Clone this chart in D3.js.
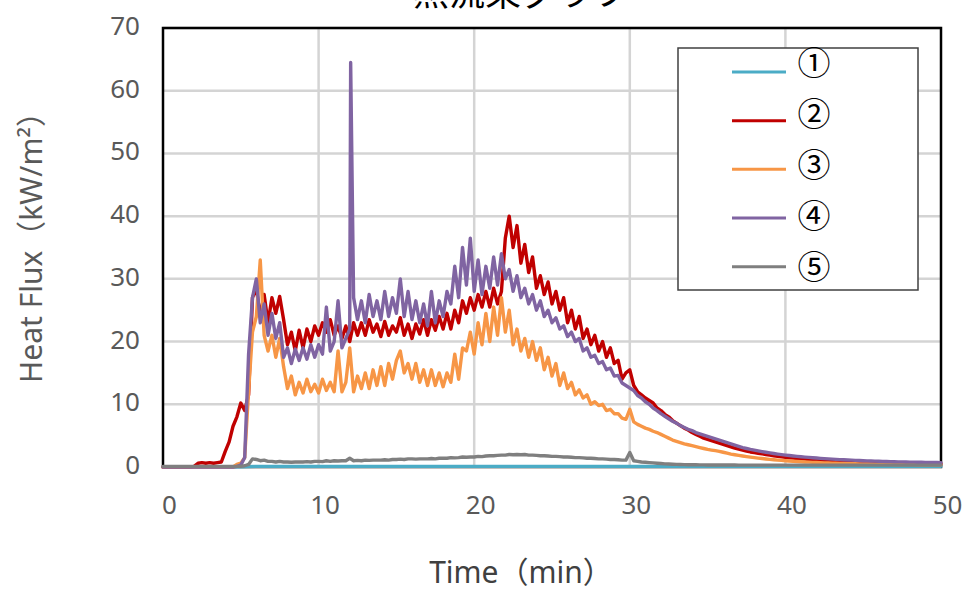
<!DOCTYPE html>
<html>
<head>
<meta charset="utf-8">
<script src="https://cdn.jsdelivr.net/npm/d3@7"></script>
<style>
  body { margin: 0; background: #fff; }
  svg { display: block; }
</style>
</head>
<body>
<svg id="chart" width="963" height="593"></svg>
<script>
// ---- labels and ticks ----
const chartTitle = "熱流束グラフ";
const xAxisTitle = "Time（min）";
const yAxisTitle = "Heat Flux（kW/m²）";
const seriesNames = ["①", "②", "③", "④", "⑤"];
const xTickValues = [0, 10, 20, 30, 40, 50];
const yTickValues = [0, 10, 20, 30, 40, 50, 60, 70];

// ---- readings (kW/m²) ----
// sensors ②–⑤ logged every 0.25 min, sensor ① every 1 min
const fineStepMin = 0.25;
const coarseStepMin = 1;

const sensor1 = [
  0.05, 0.05, 0.05, 0.05, 0.05, 0.05, 0.1, 0.1, 0.1, 0.1,
  0.1, 0.1, 0.1, 0.1, 0.1, 0.1, 0.1, 0.1, 0.1, 0.1,
  0.1, 0.1, 0.1, 0.1, 0.1, 0.1, 0.1, 0.1, 0.1, 0.1,
  0.1, 0.1, 0.1, 0.1, 0.1, 0.1, 0.1, 0.1, 0.1, 0.1,
  0.1, 0.1, 0.1, 0.1, 0.1, 0.1, 0.1, 0.1, 0.1, 0.1,
  0.1
];

const sensor2 = [
  0, 0, 0, 0,            0, 0, 0, 0,
  0.1, 0.6, 0.7, 0.6,    0.7, 0.6, 0.7, 0.8,
  2.5, 4.0, 6.5, 8.0,    10.2, 9.0, 11.5, 27.0,
  28.5, 24.0, 27.5, 23.0, 27.0, 24.5, 27.2, 23.5,
  19.5, 21.5, 18.5, 21.8, 19.0, 22.0, 20.0, 22.5,
  21.0, 23.0, 21.5, 23.5, 21.0, 22.5, 20.5, 22.5,
  20.0, 23.0, 21.0, 23.0, 21.0, 23.5, 21.5, 22.8,
  20.8, 23.2, 21.0, 22.5, 21.5, 23.8, 21.0, 22.8,
  20.5, 22.8, 21.2, 23.5, 21.0, 23.5, 21.8, 24.0,
  22.0, 24.5, 22.0, 25.0, 23.0, 26.5, 24.5, 27.0,
  25.0, 27.5, 25.5, 28.0, 25.5, 28.5, 26.0, 28.0,
  36.5, 40.0, 35.0, 38.5, 32.5, 35.5, 31.0, 33.5,
  28.5, 30.5, 27.5, 29.5, 26.0, 28.0, 25.0, 27.0,
  23.0, 25.0, 22.0, 24.0, 20.5, 22.0, 19.5, 21.0,
  18.5, 20.0, 17.5, 19.0, 16.5, 17.0, 14.0, 15.0,
  15.5, 13.0, 12.0, 11.5, 11.0, 10.6, 10.2, 9.4,
  9.0, 8.4, 8.0, 7.4,    7.0, 6.6, 6.2, 5.9,
  5.5, 5.2, 4.9, 4.6,    4.4, 4.2, 4.0, 3.8,
  3.6, 3.4, 3.2, 3.0,    2.85, 2.7, 2.55, 2.4,
  2.3, 2.2, 2.1, 2.0,    1.9, 1.8, 1.7, 1.62,
  1.55, 1.48, 1.42, 1.36, 1.3, 1.25, 1.2, 1.15,
  1.1, 1.05, 1.0, 0.96,  0.92, 0.88, 0.85, 0.82,
  0.79, 0.76, 0.73, 0.71, 0.69, 0.67, 0.65, 0.63,
  0.62, 0.61, 0.6, 0.59, 0.58, 0.57, 0.56, 0.55,
  0.54, 0.53, 0.52, 0.51, 0.5, 0.5, 0.49, 0.49,
  0.48
];

const sensor3 = [
  0, 0, 0, 0,            0, 0, 0, 0,
  0, 0, 0, 0,            0, 0, 0, 0,
  0, 0, 0, 0.4,          0.6, 1.5, 12.0, 21.5,
  24.0, 33.0, 21.0, 18.5, 21.0, 17.5, 20.5, 16.0,
  12.5, 14.5, 11.5, 13.5, 11.8, 14.0, 12.0, 13.2,
  11.8, 14.0, 12.2, 13.5, 12.0, 18.5, 12.0, 13.5,
  19.0, 12.0, 14.5, 12.5, 15.0, 12.5, 15.5, 13.0,
  16.0, 13.0, 16.5, 14.0, 17.0, 18.5, 15.0, 16.5,
  14.0, 16.5, 13.5, 15.5, 13.0, 15.5, 13.0, 15.0,
  12.8, 15.0, 13.5, 18.0, 14.0, 19.0, 18.5, 21.5,
  18.0, 23.0, 19.5, 24.5, 20.0, 25.5, 21.0, 27.0,
  21.5, 25.0, 19.5, 22.0, 18.5, 20.5, 17.5, 20.0,
  17.0, 19.0, 15.5, 17.5, 14.5, 16.5, 13.0, 15.0,
  12.5, 13.5, 11.5, 12.3, 11.0, 11.5, 10.0, 10.4,
  9.8, 10.0, 9.0, 9.2,   8.5, 8.5, 7.8, 7.6,
  9.2, 7.2, 6.8, 6.5,    6.2, 6.0, 5.7, 5.5,
  5.2, 4.9, 4.6, 4.3,    4.1, 3.9, 3.7, 3.55,
  3.4, 3.25, 3.1, 2.95,  2.8, 2.7, 2.6, 2.5,
  2.35, 2.2, 2.05, 1.95, 1.85, 1.75, 1.66, 1.58,
  1.5, 1.42, 1.35, 1.28, 1.22, 1.16, 1.1, 1.05,
  1.0, 0.96, 0.92, 0.88, 0.84, 0.8, 0.77, 0.74,
  0.71, 0.68, 0.66, 0.64, 0.62, 0.6, 0.58, 0.56,
  0.54, 0.52, 0.51, 0.5, 0.49, 0.48, 0.47, 0.46,
  0.45, 0.44, 0.43, 0.42, 0.41, 0.4, 0.4, 0.39,
  0.38, 0.38, 0.37, 0.37, 0.36, 0.36, 0.35, 0.35,
  0.35
];

const sensor4 = [
  0, 0, 0, 0,            0, 0, 0, 0,
  0, 0, 0, 0,            0, 0, 0, 0,
  0, 0, 0, 0.1,          0.3, 1.5, 18.0, 27.0,
  30.0, 23.0, 26.0, 21.0, 24.5, 20.5, 23.0, 17.5,
  19.0, 16.5, 18.8, 17.0, 19.0, 17.2, 19.5, 17.5,
  19.5, 18.0, 25.5, 18.5, 20.0, 26.5, 19.0, 20.5,
  22.0, 27.0, 23.5, 26.5, 23.0, 27.5, 24.0, 26.5,
  23.5, 28.0, 24.0, 27.0, 24.5, 30.0, 24.0, 28.0,
  23.5, 26.5, 23.0, 26.0, 22.5, 28.0, 23.0, 26.5,
  24.0, 28.0, 26.0, 32.0, 27.0, 35.0, 29.0, 36.5,
  28.0, 33.0, 27.5, 32.0, 28.5, 33.5, 29.0, 34.0,
  30.0, 31.5, 28.0, 30.5, 27.0, 28.5, 26.0, 27.5,
  25.0, 26.5, 24.0, 25.0, 23.0, 23.8, 22.0, 22.5,
  20.8, 21.5, 20.0, 20.5, 18.5, 19.0, 17.5, 17.8,
  16.5, 16.8, 15.5, 15.8, 14.5, 14.6, 13.4, 13.0,
  12.6, 12.2, 11.4, 11.0, 10.4, 10.0, 9.4, 9.0,
  8.5, 8.1, 7.7, 7.3,    7.0, 6.6, 6.3, 6.0,
  5.8, 5.5, 5.3, 5.1,    4.9, 4.7, 4.5, 4.3,
  4.1, 3.9, 3.7, 3.5,    3.3, 3.1, 2.95, 2.8,
  2.68, 2.56, 2.45, 2.35, 2.25, 2.15, 2.06, 1.98,
  1.9, 1.83, 1.76, 1.7,  1.64, 1.58, 1.53, 1.48,
  1.43, 1.38, 1.34, 1.3, 1.26, 1.22, 1.18, 1.15,
  1.12, 1.09, 1.06, 1.03, 1.0, 0.98, 0.96, 0.94,
  0.92, 0.9, 0.88, 0.86, 0.84, 0.82, 0.81, 0.8,
  0.78, 0.77, 0.76, 0.75, 0.74, 0.73, 0.72, 0.71,
  0.7
];
// single off-grid reading of sensor ④ (time in min, value)
const sensor4Spike = [[12.06, 64.5]];

const sensor5 = [
  0.1, 0.1, 0.1, 0.1,    0.1, 0.1, 0.1, 0.1,
  0.1, 0.1, 0.1, 0.1,    0.1, 0.1, 0.1, 0.1,
  0.1, 0.1, 0.1, 0.1,    0.1, 0.2, 0.4, 1.3,
  1.2, 1.0, 1.1, 0.9,    0.9, 0.8, 0.9, 0.8,
  0.8, 0.75, 0.8, 0.8,   0.8, 0.85, 0.8, 0.9,
  0.9, 0.85, 1.0, 0.9,   1.0, 0.95, 1.0, 1.0,
  1.4, 1.0, 1.05, 1.0,   1.1, 1.05, 1.1, 1.1,
  1.1, 1.15, 1.1, 1.2,   1.2, 1.25, 1.2, 1.3,
  1.3, 1.25, 1.3, 1.3,   1.3, 1.35, 1.3, 1.4,
  1.4, 1.4, 1.5, 1.45,   1.5, 1.6, 1.55, 1.6,
  1.6, 1.7, 1.65, 1.75,  1.8, 1.8, 1.85, 1.9,
  1.9, 2.0, 1.95, 2.0,   1.95, 2.0, 1.9, 1.9,
  1.85, 1.8, 1.8, 1.75,  1.7, 1.7, 1.65, 1.6,
  1.6, 1.55, 1.5, 1.5,   1.45, 1.4, 1.4, 1.35,
  1.3, 1.3, 1.25, 1.2,   1.2, 1.15, 1.1, 1.1,
  2.3, 1.0, 0.9, 0.8,    0.75, 0.7, 0.65, 0.6,
  0.55, 0.5, 0.48, 0.45, 0.42, 0.4, 0.38, 0.36,
  0.35, 0.35, 0.34, 0.34, 0.33, 0.33, 0.32, 0.32,
  0.32, 0.31, 0.31, 0.31, 0.3, 0.3, 0.3, 0.3,
  0.3, 0.3, 0.3, 0.3,    0.3, 0.3, 0.3, 0.3,
  0.3, 0.3, 0.3, 0.3,    0.3, 0.3, 0.3, 0.3,
  0.3, 0.3, 0.3, 0.3,    0.3, 0.3, 0.3, 0.3,
  0.3, 0.3, 0.3, 0.3,    0.3, 0.3, 0.3, 0.3,
  0.3, 0.3, 0.3, 0.3,    0.3, 0.3, 0.3, 0.3,
  0.3, 0.3, 0.3, 0.3,    0.3, 0.3, 0.3, 0.3,
  0.3
];

// ---- styling ----
const seriesColors = ["#4bacc6", "#c00000", "#f79646", "#8064a2", "#7f7f7f"];
const latinFont = "'Noto Sans', 'Noto Sans CJK JP', sans-serif";
const cjkFont = "'Noto Sans CJK JP', 'Noto Sans', sans-serif";

// ---- build point lists ----
function toPoints(values, step) {
  return values.map((v, i) => [i * step, v]);
}
const series = [
  toPoints(sensor1, coarseStepMin),
  toPoints(sensor2, fineStepMin),
  toPoints(sensor3, fineStepMin),
  toPoints(sensor4, fineStepMin).concat(sensor4Spike).sort((a, b) => a[0] - b[0]),
  toPoints(sensor5, fineStepMin)
];

// ---- layout ----
const plot = { left: 163, right: 941, top: 28, bottom: 467 };
const svg = d3.select("#chart");

const x = d3.scaleLinear().domain([0, 50]).range([plot.left, plot.right]);
const y = d3.scaleLinear().domain([0, 70]).range([plot.bottom, plot.top]);

// gridlines
const grid = svg.append("g").attr("stroke", "#d4d4d4").attr("stroke-width", 2.5);
grid.selectAll("line.h").data(yTickValues.slice(1)).join("line")
  .attr("class", "h")
  .attr("x1", plot.left).attr("x2", plot.right)
  .attr("y1", d => y(d)).attr("y2", d => y(d));
grid.selectAll("line.v").data(xTickValues.slice(1, -1)).join("line")
  .attr("class", "v")
  .attr("y1", plot.top).attr("y2", plot.bottom)
  .attr("x1", d => x(d)).attr("x2", d => x(d));

// plot frame
svg.append("rect")
  .attr("x", plot.left).attr("y", plot.top)
  .attr("width", plot.right - plot.left).attr("height", plot.bottom - plot.top)
  .attr("fill", "none").attr("stroke", "#000").attr("stroke-width", 2.5);

// series lines
const line = d3.line().x(d => x(d[0])).y(d => y(d[1]));
svg.append("g").selectAll("path").data(series).join("path")
  .attr("d", line)
  .attr("fill", "none")
  .attr("stroke", (d, i) => seriesColors[i])
  .attr("stroke-width", 3.4)
  .attr("stroke-linejoin", "round")
  .attr("stroke-linecap", "round");

// y axis labels
const yAxis = d3.axisLeft(y).tickValues(yTickValues).tickSize(0).tickPadding(0);
const yg = svg.append("g").attr("transform", `translate(140,0)`).call(yAxis);
yg.select(".domain").remove();
yg.selectAll("text")
  .attr("x", 0).attr("dy", null).attr("y", 6.5)
  .attr("text-anchor", "end")
  .attr("font-family", latinFont).attr("font-size", 26)
  .attr("fill", "#595959");

// x axis labels
const xAxis = d3.axisBottom(x).tickValues(xTickValues).tickSize(0).tickPadding(0);
const xg = svg.append("g").attr("transform", `translate(6,0)`).call(xAxis);
xg.select(".domain").remove();
xg.selectAll("text")
  .attr("y", 514).attr("dy", null)
  .attr("text-anchor", "middle")
  .attr("font-family", latinFont).attr("font-size", 26)
  .attr("fill", "#595959");

// axis titles
svg.append("text")
  .attr("x", 521).attr("y", 583)
  .attr("text-anchor", "middle")
  .attr("font-family", latinFont).attr("font-size", 30)
  .attr("fill", "#404040")
  .text(xAxisTitle);

svg.append("text")
  .attr("transform", "translate(42,240) rotate(-90)")
  .attr("text-anchor", "middle")
  .attr("font-family", latinFont).attr("font-size", 30)
  .attr("fill", "#595959")
  .text(yAxisTitle);

// chart title (sits above the top edge)
svg.append("text")
  .attr("x", 521).attr("y", 6)
  .attr("text-anchor", "middle")
  .attr("font-family", cjkFont).attr("font-size", 36)
  .attr("fill", "#000")
  .text(chartTitle);

// legend
const legend = { left: 678, top: 48, right: 918, bottom: 290 };
svg.append("rect")
  .attr("x", legend.left).attr("y", legend.top)
  .attr("width", legend.right - legend.left).attr("height", legend.bottom - legend.top)
  .attr("fill", "#fff").attr("stroke", "#404040").attr("stroke-width", 1.5);

const swatchY = d3.scalePoint().domain(seriesNames).range([72, 266.7]);
const labelY = d3.scalePoint().domain(seriesNames).range([63, 267.5]);
const items = svg.append("g").selectAll("g").data(seriesNames).join("g");
items.append("line")
  .attr("x1", 732).attr("x2", 786)
  .attr("y1", d => swatchY(d)).attr("y2", d => swatchY(d))
  .attr("stroke", (d, i) => seriesColors[i])
  .attr("stroke-width", 3);
items.append("text")
  .attr("x", 814).attr("y", d => labelY(d))
  .attr("dy", "0.35em")
  .attr("text-anchor", "middle")
  .attr("font-family", cjkFont).attr("font-size", 33)
  .attr("fill", "#000")
  .text(d => d);
</script>
</body>
</html>
